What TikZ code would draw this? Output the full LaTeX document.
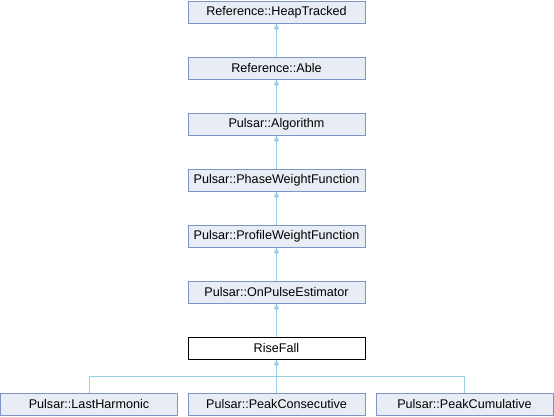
\documentclass[tikz,border=0pt]{standalone}
\usepackage{fontspec}
\setmainfont{Liberation Sans}
\usetikzlibrary{arrows.meta}

\definecolor{clsfill}{HTML}{E8ECF5}
\definecolor{clsborder}{HTML}{7F93C6}
\definecolor{inhline}{HTML}{9BCDE6}

\begin{document}
\begin{tikzpicture}[x=1pt,y=-1pt,
    cls/.style={draw=clsborder, fill=clsfill, line width=0.9pt, minimum width=177pt,
        minimum height=22pt, inner sep=0pt, font=\fontsize{12.6}{14}\selectfont},
    cur/.style={cls, draw=black, fill=white},
    inh/.style={draw=inhline, line width=0.9pt},
    arr/.style={inh, -{Triangle[width=5pt,length=6pt]}}]
            \useasboundingbox (0,0) rectangle (554,416);

            \node[cls] (ht) at (276.5,12) {Reference::HeapTracked};
            \node[cls] (able) at (276.5,68) {Reference::Able};
            \node[cls] (alg) at (276.5,124) {Pulsar::Algorithm};
            \node[cls] (pwf) at (276.5,180) {Pulsar::PhaseWeightFunction};
            \node[cls] (prwf) at (276.5,236) {Pulsar::ProfileWeightFunction};
            \node[cls] (ope) at (276.5,292) {Pulsar::OnPulseEstimator};
            \node[cur] (rf) at (276.5,348) {RiseFall};

            \node[cls] (lh) at (89,404) {Pulsar::LastHarmonic};
            \node[cls] (pcon) at (276.5,404) {Pulsar::PeakConsecutive};
            \node[cls] (pcum) at (464.5,404) {Pulsar::PeakCumulative};
            \coordinate (join) at (276.5,376);

            \draw[arr] (able)--(ht);
            \draw[arr] (alg)--(able);
            \draw[arr] (pwf)--(alg);
            \draw[arr] (prwf)--(pwf);
            \draw[arr] (ope)--(prwf);
            \draw[arr] (rf)--(ope);

            \draw[inh] (lh.north) |- (join);
            \draw[inh] (pcum.north) |- (join);
            \draw[arr] (pcon)--(rf);
        \end{tikzpicture}
\end{document}
